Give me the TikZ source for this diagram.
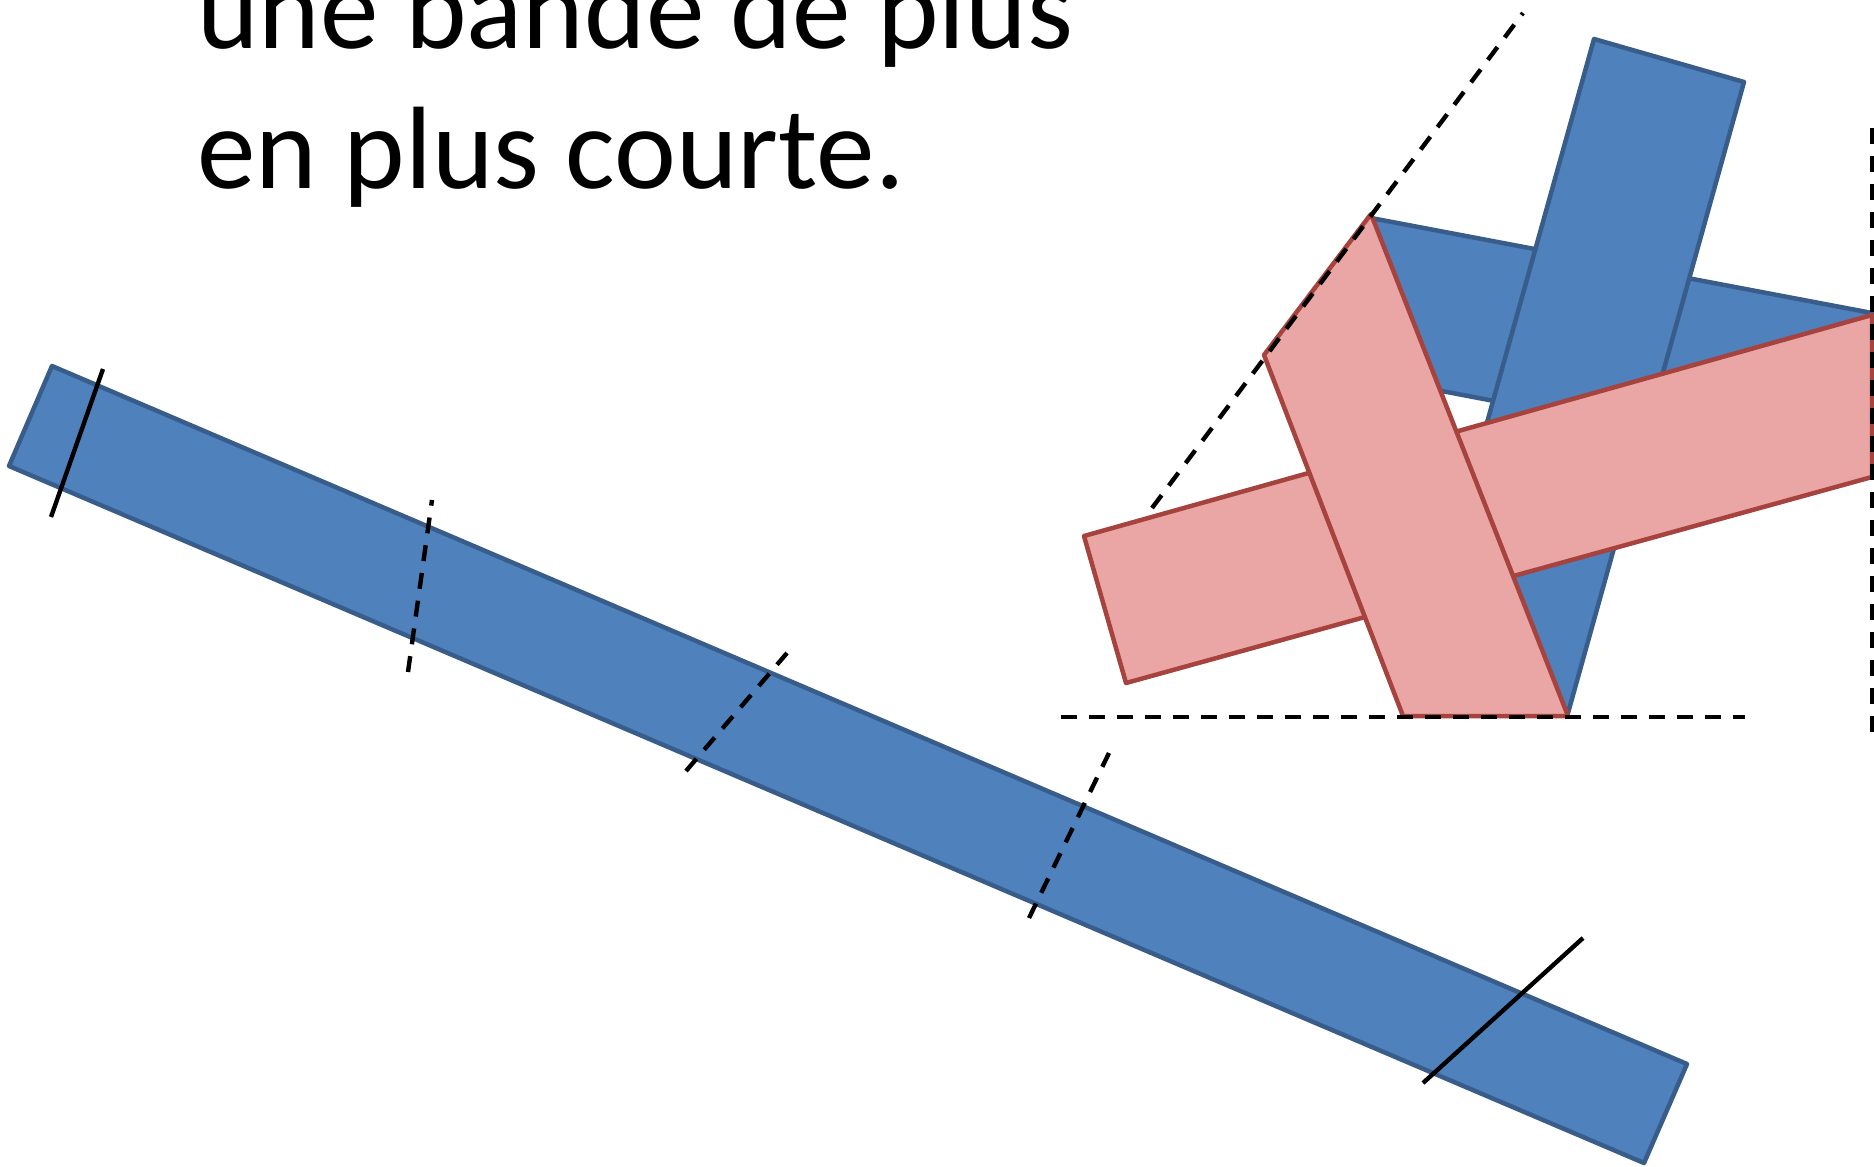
\documentclass[tikz,border=0pt]{standalone}
\usepackage{fontspec}
\setmainfont{Carlito}
\definecolor{bandblue}{HTML}{4F81BD}
\definecolor{bandblueline}{HTML}{385D8A}
\definecolor{bandpink}{HTML}{EAA6A4}
\definecolor{bandpinkline}{HTML}{A6433F}
\tikzset{
  blueband/.style={fill=bandblue, draw=bandblueline, line width=2.25pt, line join=round},
  pinkband/.style={fill=bandpink, draw=bandpinkline, line width=2.25pt, line join=round},
  cutline/.style={draw=black, line width=2.2pt, dash pattern=on 8pt off 6pt},
  markline/.style={draw=black, line width=2.2pt},
  bigtext/.style={anchor=base west, inner sep=0pt, font=\fontsize{58.6pt}{70pt}\selectfont}
}
\begin{document}
\begin{tikzpicture}[x=0.5pt,y=-0.5pt]
\useasboundingbox (0,0) rectangle (1874,1167);
% text
\node[bigtext] (l1) at (197,48) {une bande de plus};
\node[bigtext] (l2) at (197,188) {en plus courte.};
% long blue band
\coordinate (a1) at (52,366);
\coordinate (a2) at (1687,1064);
\coordinate (a3) at (1644,1163);
\coordinate (a4) at (9,466);
\path[blueband] (a1) -- (a2) -- (a3) -- (a4) -- cycle;
% marks on the long band
\coordinate (s1a) at (103,369); \coordinate (s1b) at (51,517);
\draw[markline] (s1a) -- (s1b);
\coordinate (d1a) at (408,672); \coordinate (d1b) at (432,500);
\draw[cutline] (d1a) -- (d1b);
\coordinate (d2a) at (686,771); \coordinate (d2b) at (787,653);
\draw[cutline] (d2a) -- (d2b);
\coordinate (d3a) at (1029,918); \coordinate (d3b) at (1109,753);
\draw[cutline] (d3a) -- (d3b);
\coordinate (s2a) at (1583,938); \coordinate (s2b) at (1423,1083);
\draw[markline] (s2a) -- (s2b);
% woven cluster
\coordinate (h1) at (1371,218);
\coordinate (h2) at (1872,313);
\coordinate (h3) at (1872,473);
\coordinate (h4) at (1342,372);
\path[blueband] (h1) -- (h2) -- (h3) -- (h4) -- cycle;
\coordinate (v1) at (1594,39);
\coordinate (v2) at (1744,82);
\coordinate (v3) at (1568,713);
\coordinate (v4) at (1418,670);
\path[blueband] (v1) -- (v2) -- (v3) -- (v4) -- cycle;
\coordinate (p1) at (1084,536);
\coordinate (p2) at (1872,315);
\coordinate (p3) at (1872,477);
\coordinate (p4) at (1126,683);
\path[pinkband] (p1) -- (p2) -- (p3) -- (p4) -- cycle;
\coordinate (q1) at (1371,214);
\coordinate (q2) at (1568,716);
\coordinate (q3) at (1403,716);
\coordinate (q4) at (1264,355);
\path[pinkband] (q1) -- (q2) -- (q3) -- (q4) -- cycle;
% guide lines
\coordinate (g1) at (1152,508); \coordinate (g2) at (1523,13);
\draw[cutline] (g1) -- (g2);
\coordinate (g3) at (1061,717); \coordinate (g4) at (1745,717);
\draw[cutline] (g3) -- (g4);
\coordinate (g5) at (1872,128); \coordinate (g6) at (1872,732);
\draw[cutline] (g5) -- (g6);
\end{tikzpicture}
\end{document}
